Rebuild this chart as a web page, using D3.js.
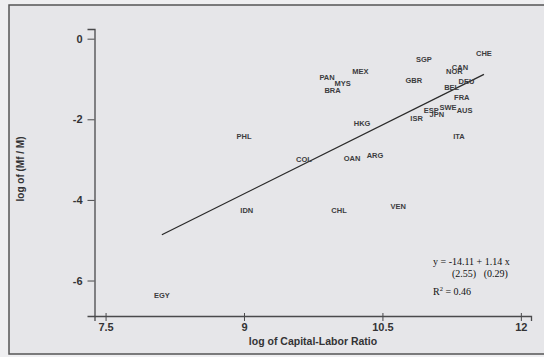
<!DOCTYPE html>
<html>
<head>
<meta charset="utf-8">
<script src="https://cdn.jsdelivr.net/npm/d3@7"></script>
<style>
  html, body { margin: 0; padding: 0; background: #efeff1; }
  svg { display: block; }
</style>
</head>
<body>
<svg id="chart" width="544" height="357"></svg>
<script>
// country codes and values
const codes = ['CHE', 'SGP', 'CAN', 'NOR', 'DEU', 'GBR', 'BEL', 'FRA', 'ESP', 'SWE', 'JPN', 'AUS', 'ISR', 'ITA',
  'MEX', 'PAN', 'MYS', 'BRA', 'HKG', 'ARG', 'OAN', 'COL', 'PHL', 'IDN', 'CHL', 'VEN', 'EGY'];
const capLabor = [11.60, 10.95, 11.34, 11.28, 11.41, 10.84, 11.25, 11.36, 11.03, 11.21, 11.09, 11.39, 10.87, 11.33,
  10.26, 9.90, 10.07, 9.96, 10.28, 10.42, 10.17, 9.65, 9.00, 9.03, 10.03, 10.67, 8.11];
const logMfM = [-0.37, -0.52, -0.71, -0.81, -1.05, -1.03, -1.21, -1.46, -1.77, -1.71, -1.87, -1.79, -1.98, -2.43,
  -0.80, -0.95, -1.11, -1.28, -2.10, -2.89, -2.98, -2.99, -2.42, -4.25, -4.25, -4.15, -6.36];
const xTicks = [7.5, 9, 10.5, 12];
const yTicks = [0, -2, -4, -6];
const intercept = -14.11;
const slope = 1.14;
const eqLines = ['y = -14.11 + 1.14 x', '(2.55)   (0.29)'];

const svg = d3.select('#chart');
const ink = '#333335';

// scanned page frame
svg.append('rect')
  .attr('x', 9).attr('y', 5)
  .attr('width', 540).attr('height', 349)
  .attr('fill', '#e6e6e9')
  .attr('stroke', '#555')
  .attr('stroke-width', 1.5);

const x = d3.scaleLinear().domain([7.38, 12.11]).range([94.5, 531]);
const y = d3.scaleLinear().domain([-6.88, 0.24]).range([316, 29]);

const xAxis = svg.append('g')
  .attr('transform', 'translate(0,316)')
  .call(d3.axisBottom(x).tickValues(xTicks).tickFormat(d => String(d)).tickSizeOuter(0).tickSize(5).tickPadding(2));

const yAxis = svg.append('g')
  .attr('transform', 'translate(94.5,0)')
  .call(d3.axisLeft(y).tickValues(yTicks).tickFormat(d => String(d)).tickSizeOuter(0).tickSize(7).tickPadding(5));

[xAxis, yAxis].forEach(g => {
  g.select('.domain').attr('stroke', '#4a4a4c').attr('stroke-width', 1.3);
  g.selectAll('.tick line').attr('stroke', '#4a4a4c').attr('stroke-width', 1);
  g.selectAll('.tick text')
    .attr('fill', ink)
    .attr('font-family', 'Liberation Sans, Arial, sans-serif')
    .attr('font-weight', 'bold')
    .attr('font-size', 11);
});
xAxis.selectAll('.tick line').attr('y1', -3);

svg.append('text')
  .attr('x', 313).attr('y', 345)
  .attr('text-anchor', 'middle')
  .attr('font-family', 'Liberation Sans, Arial, sans-serif')
  .attr('font-weight', 'bold')
  .attr('font-size', 10.5)
  .attr('fill', ink)
  .text('log of Capital-Labor Ratio');

svg.append('text')
  .attr('transform', 'translate(24,169) rotate(-90)')
  .attr('text-anchor', 'middle')
  .attr('font-family', 'Liberation Sans, Arial, sans-serif')
  .attr('font-weight', 'bold')
  .attr('font-size', 10)
  .attr('fill', ink)
  .text('log of (Mf / M)');

// fitted line over the range of the data
const [xMin, xMax] = d3.extent(capLabor);
svg.append('line')
  .attr('x1', x(xMin)).attr('y1', y(intercept + slope * xMin))
  .attr('x2', x(xMax)).attr('y2', y(intercept + slope * xMax))
  .attr('stroke', '#2a2a2a')
  .attr('stroke-width', 1.3);

svg.append('g')
  .attr('font-family', 'Liberation Sans, Arial, sans-serif')
  .attr('font-weight', 'bold')
  .attr('font-size', 7.5)
  .attr('fill', '#3c3c3e')
  .selectAll('text')
  .data(codes)
  .join('text')
  .attr('x', (d, i) => x(capLabor[i]))
  .attr('y', (d, i) => y(logMfM[i]))
  .attr('dy', '0.35em')
  .attr('text-anchor', 'middle')
  .text(d => d);

const eq = svg.append('g')
  .attr('font-family', 'Liberation Serif, Times New Roman, serif')
  .attr('font-size', 10)
  .attr('fill', '#111');
eq.append('text').attr('x', 433).attr('y', 265).text(eqLines[0]);
eq.append('text').attr('x', 452).attr('y', 277).attr('xml:space', 'preserve').style('white-space', 'pre').text(eqLines[1]);
const r2 = eq.append('text').attr('x', 433).attr('y', 295);
r2.append('tspan').text('R');
r2.append('tspan').attr('dy', -4).attr('font-size', 6.5).text('2');
r2.append('tspan').attr('dy', 4).text(' = 0.46');
</script>
</body>
</html>
